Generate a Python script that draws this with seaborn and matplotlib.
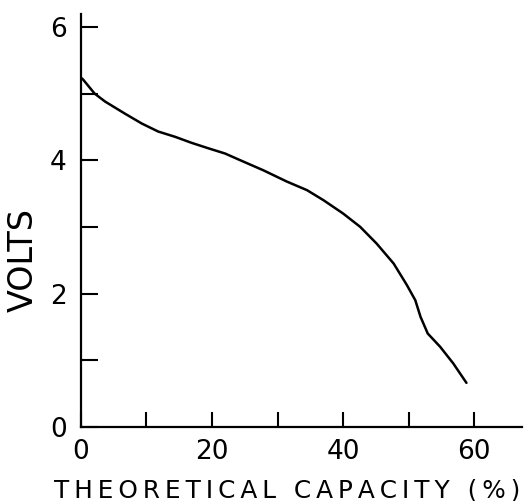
import matplotlib
matplotlib.use("Agg")
import matplotlib.pyplot as plt
from matplotlib.ticker import MultipleLocator
import seaborn as sns
import pandas as pd

# discharge curve
capacity = [0, 0.35, 2.1, 3.7, 6.7, 9.3, 11.8, 14.4, 16.9, 19.4, 22.0, 24.3, 27.8, 31.4,
            34.5, 37.0, 40.0, 42.6, 45.1, 47.7, 49.7, 51.0, 51.8, 52.9, 54.8, 56.8, 58.8]
volts = [5.24, 5.21, 5.00, 4.88, 4.70, 4.55, 4.43, 4.35, 4.26, 4.18, 4.10, 4.00, 3.85, 3.68,
         3.55, 3.40, 3.20, 3.00, 2.75, 2.45, 2.13, 1.90, 1.65, 1.40, 1.20, 0.95, 0.66]

x_ticks = [0, 20, 40, 60]
y_ticks = [0, 2, 4, 6]

df = pd.DataFrame({'capacity': capacity, 'volts': volts})

sns.set_style('ticks')
plt.rcParams['font.family'] = ['DejaVu Sans']
plt.rcParams['text.color'] = 'black'
plt.rcParams['axes.labelcolor'] = 'black'

fig = plt.figure(figsize=(5.28, 5.01), dpi=100)
ax = fig.add_axes([0.153, 0.148, 0.836, 0.825])

sns.lineplot(data=df, x='capacity', y='volts', ax=ax, color='black', linewidth=1.8, sort=False)

ax.set_xlim(0, 67.3)
ax.set_ylim(0, 6.2)
ax.set_xticks(x_ticks)
ax.set_yticks(y_ticks)
ax.xaxis.set_minor_locator(MultipleLocator(10))
ax.yaxis.set_minor_locator(MultipleLocator(1))
ax.tick_params(axis='both', which='both', direction='in', width=1.5, colors='black',
               labelsize=19, labelcolor='black')
ax.tick_params(axis='x', which='both', length=11, pad=9)
ax.tick_params(axis='y', which='both', length=12, pad=10)

for s in ['top', 'right']:
    ax.spines[s].set_visible(False)
for s in ['left', 'bottom']:
    ax.spines[s].set_linewidth(1.6)
    ax.spines[s].set_color('black')

ax.set_xlabel('\u2009'.join('THEORETICAL CAPACITY (%)'), fontsize=17.8)
ax.xaxis.set_label_coords(0.467, -0.125)
ax.set_ylabel('VOLTS', fontsize=24)
ax.yaxis.set_label_coords(-0.092, 0.404)

fig.savefig('out.png', dpi=100)
